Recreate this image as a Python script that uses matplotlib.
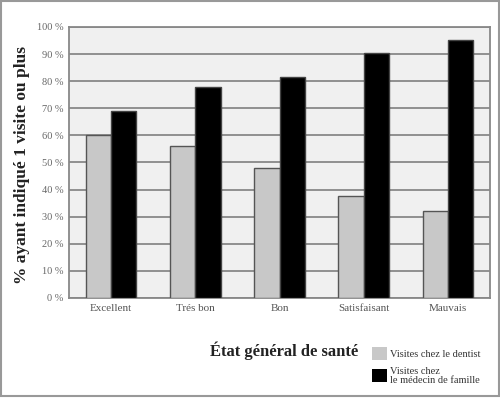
import matplotlib
matplotlib.use("Agg")
import matplotlib.pyplot as plt
import numpy as np
from matplotlib.patches import Rectangle

categories = ["Excellent", "Trés bon", "Bon", "Satisfaisant", "Mauvais"]
dentist = [60, 56, 48, 37.5, 32]
medecin = [69, 78, 81.5, 90.5, 95]
yticks = [0, 10, 20, 30, 40, 50, 60, 70, 80, 90, 100]
ytick_labels = [f"{v} %" for v in yticks]
series_labels = ["Visites chez le dentist", "Visites chez\nle médecin de famille"]

plt.rcParams['font.family'] = ['Liberation Serif', 'DejaVu Serif']

fig = plt.figure(figsize=(5.0, 3.98), dpi=100)
ax = fig.add_axes([0.138, 0.2513, 0.842, 0.681])
ax.set_facecolor("#f0f0f0")

x = np.arange(len(categories))
w = 0.30
b1 = ax.bar(x - w/2, dentist, width=w, color="#c8c8c8", edgecolor="#555555", linewidth=1.0, zorder=3, label=series_labels[0])
b2 = ax.bar(x + w/2, medecin, width=w, color="#000000", edgecolor="#444444", linewidth=1.0, zorder=3, label=series_labels[1])

ax.set_xlim(-0.5, len(categories) - 0.5)
ax.set_ylim(0, 100)
ax.set_yticks(yticks)
ax.set_yticklabels(ytick_labels, fontsize=7.5, color="#666666")
ax.set_xticks(x)
ax.set_xticklabels(categories, fontsize=8, color="#555555")
ax.tick_params(axis="both", length=0, pad=4)
ax.yaxis.grid(True, color="#888888", linewidth=1.3, zorder=1)
for s in ax.spines.values():
    s.set_color("#888888")
    s.set_linewidth(1.3)

fig.text(0.044, 0.585, "% ayant indiqué 1 visite ou plus", rotation=90, ha="center", va="center",
         fontsize=12.5, fontweight="bold", color="#222222")
fig.text(0.568, 0.118, "État général de santé", ha="center", va="center",
         fontsize=12, fontweight="bold", color="#222222")

leg = fig.legend(handles=[b1, b2], labels=series_labels, loc="upper left",
                 bbox_to_anchor=(0.743, 0.128), frameon=False, fontsize=7.5,
                 handlelength=1.5, handleheight=1.6, handletextpad=0.3, labelspacing=0.6,
                 borderaxespad=0, borderpad=0)
for t in leg.get_texts():
    t.set_color("#333333")
    t.set_linespacing(1.0)
for h in leg.legend_handles:
    h.set_edgecolor("none")

fig.patches.append(Rectangle((0.002, 0.004), 0.995, 0.993, transform=fig.transFigure,
                             fill=False, edgecolor="#999999", linewidth=1.5))

fig.savefig("out.png", dpi=100, facecolor="white")
